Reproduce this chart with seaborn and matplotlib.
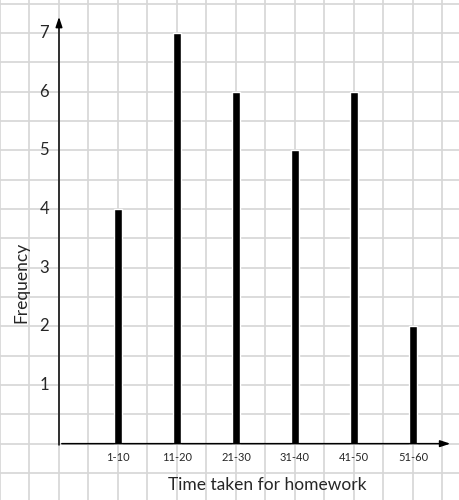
import matplotlib
matplotlib.use("Agg")
import matplotlib.pyplot as plt
import numpy as np
import pandas as pd
import seaborn as sns

# ─── DATA ─────────────────────────────────────────────────────────────────────
time_groups = ["1-10", "11-20", "21-30", "31-40", "41-50", "51-60"]
frequency   = [4, 7, 6, 5, 6, 2]
y_labels    = [1, 2, 3, 4, 5, 6, 7]

df = pd.DataFrame({"Time": time_groups, "Frequency": frequency})

sns.set_style("white")
plt.rcParams["font.family"] = ["Lato", "DejaVu Sans"]

fig = plt.figure(figsize=(4.59, 5.0), dpi=100)
ax = fig.add_axes([0, 0, 1, 1])

sns.barplot(data=df, x="Time", y="Frequency", color="black", width=0.13,
            saturation=1, ax=ax, zorder=3)

# squared paper background: grid every half unit, y axis sits at x = -1
ax.set_xlim(-2, 5.78)
ax.set_ylim(-0.96, 7.56)
ax.set_xticks(np.arange(-2, 6, 0.5))
ax.set_yticks(np.arange(-0.5, 7.6, 0.5))
ax.set_xticklabels([])
ax.set_yticklabels([])
ax.tick_params(length=0)
ax.grid(True, color="#d6d6d6", lw=1.2, zorder=0)
ax.set_axisbelow(True)
for s in ax.spines.values():
    s.set_visible(False)
ax.set_xlabel("")
ax.set_ylabel("")

# axes drawn as arrows
arrow = dict(arrowstyle="-|>,head_length=0.6,head_width=0.2", color="black", lw=1.1)
ax.annotate("", xy=(-1, 7.32), xytext=(-1, -0.07), arrowprops=arrow, zorder=4)
ax.annotate("", xy=(5.68, 0), xytext=(-1, 0), arrowprops=arrow, zorder=4)

# tick labels
for v in y_labels:
    ax.text(-1.17, v, str(v), ha="right", va="center", fontsize=12)
for i, t in enumerate(time_groups):
    ax.text(i, -0.23, t, ha="center", va="center", fontsize=8)

ax.text(2.53, -0.70, "Time taken for homework", ha="center", va="center", fontsize=12.5)
ax.text(-1.63, 2.74, "Frequency", ha="center", va="center", rotation=90, fontsize=12.5)

plt.savefig("out.png", dpi=100)
plt.close()
